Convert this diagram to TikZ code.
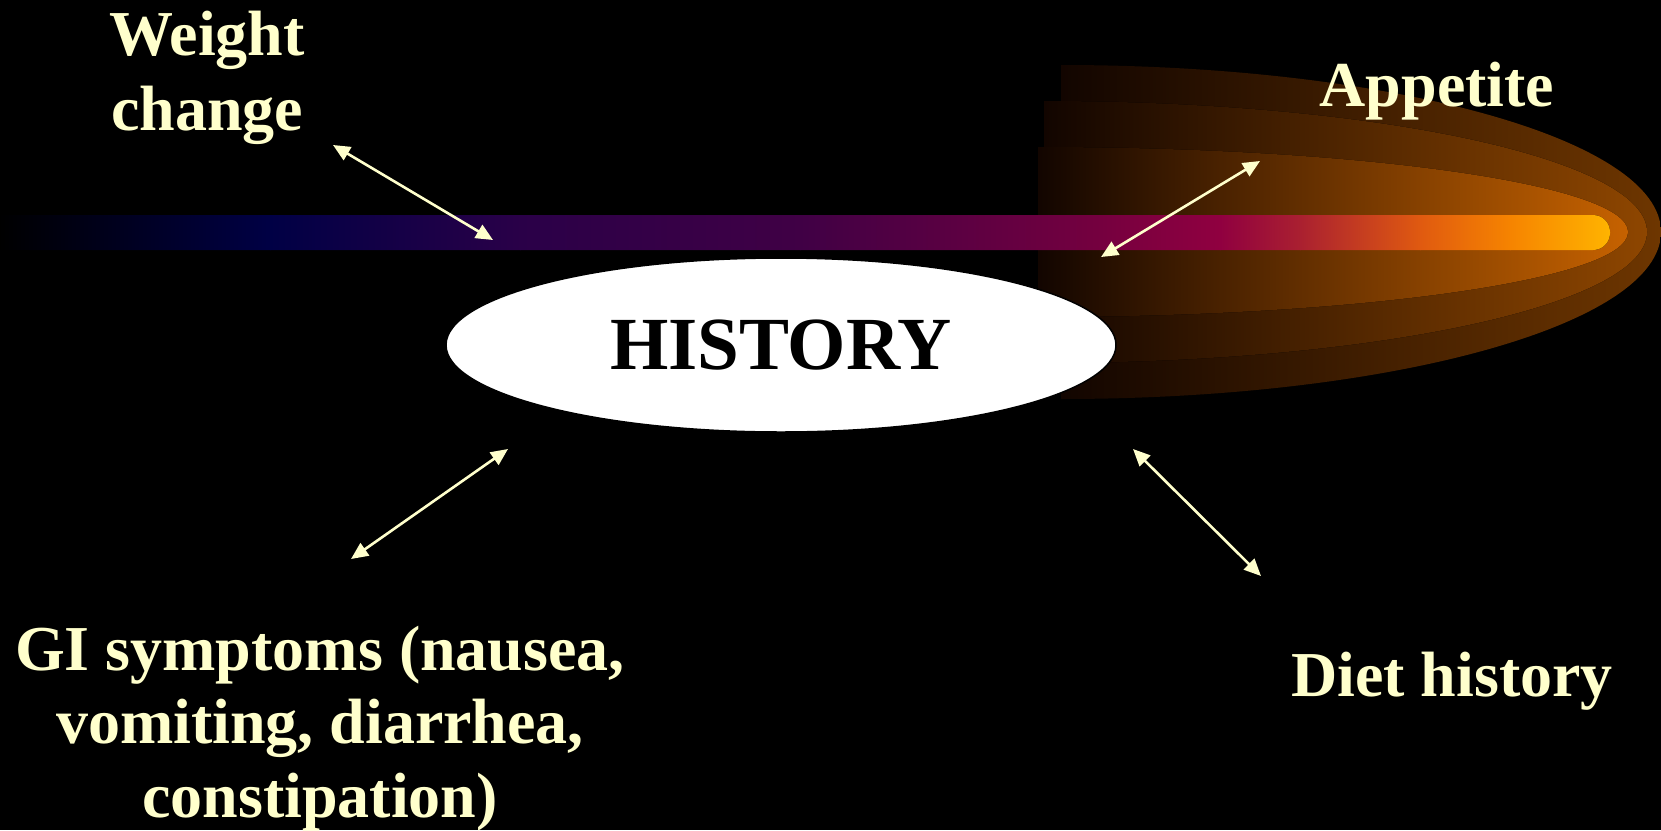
\documentclass[tikz,border=0pt]{standalone}
\usepackage{fontspec}
\setmainfont{Liberation Serif}
\usetikzlibrary{arrows.meta,shapes.geometric}
\definecolor{lbltxt}{HTML}{FFFFCC}
\definecolor{glowedge}{HTML}{120500}
\definecolor{glowAm}{HTML}{4C2600}
\definecolor{glowA}{HTML}{6E3600}
\definecolor{glowBm}{HTML}{622F00}
\definecolor{glowB}{HTML}{8E4600}
\definecolor{glowCm}{HTML}{7E3F00}
\definecolor{glowC}{HTML}{C66200}
\begin{document}
\begin{tikzpicture}[x=1pt,y=-1pt,
  lbl/.style={text=lbltxt, font=\fontsize{64}{75}\selectfont\bfseries, inner sep=0pt, anchor=base},
  link/.style={draw=lbltxt, line width=2.6pt, {Triangle[length=17pt,width=15pt]}-{Triangle[length=17pt,width=15pt]}},
  hub/.style={ellipse, fill=white, draw=black, line width=1.5pt, inner sep=0pt,
    minimum width=670pt, minimum height=174pt, font=\fontsize{75}{80}\selectfont\bfseries, text=black}]
% background
\fill[black] (0,0) rectangle (1661,830);
\useasboundingbox (0,0) rectangle (1661,830);
% comet glow layers
\fill[left color=glowedge, middle color=glowAm, right color=glowA] (1061,65) arc (-90:90:600 and 167) -- cycle;
\fill[left color=glowedge, middle color=glowBm, right color=glowB] (1044,101) arc (-90:90:603 and 131) -- cycle;
\fill[left color=glowedge, middle color=glowCm, right color=glowC] (1038,147) arc (-90:90:590 and 85) -- cycle;
% bar
\begin{scope}
\clip[rounded corners=17pt] (-20,215) rectangle (1610,250);
\fill[left color=black, right color={rgb,255:red,0;green,0;blue,69}] (-1,215) rectangle (271,250);
\fill[left color={rgb,255:red,0;green,0;blue,69}, right color={rgb,255:red,42;green,0;blue,72}] (270,215) rectangle (521,250);
\fill[left color={rgb,255:red,42;green,0;blue,72}, right color={rgb,255:red,64;green,0;blue,69}] (520,215) rectangle (801,250);
\fill[left color={rgb,255:red,64;green,0;blue,69}, right color={rgb,255:red,117;green,0;blue,63}] (800,215) rectangle (1101,250);
\fill[left color={rgb,255:red,117;green,0;blue,63}, right color={rgb,255:red,144;green,0;blue,64}] (1100,215) rectangle (1221,250);
\fill[left color={rgb,255:red,144;green,0;blue,64}, right color={rgb,255:red,170;green,32;blue,48}] (1220,215) rectangle (1301,250);
\fill[left color={rgb,255:red,170;green,32;blue,48}, right color={rgb,255:red,224;green,90;blue,16}] (1300,215) rectangle (1421,250);
\fill[left color={rgb,255:red,224;green,90;blue,16}, right color={rgb,255:red,246;green,132;blue,0}] (1420,215) rectangle (1511,250);
\fill[left color={rgb,255:red,246;green,132;blue,0}, right color={rgb,255:red,255;green,180;blue,0}] (1510,215) rectangle (1611,250);
\end{scope}
% central node
\node[hub] (hist) at (781,345) {HISTORY};
% labels
\node[lbl] (weight) at (207,55) {\begin{tabular}[t]{@{}c@{}}Weight\\change\end{tabular}};
\node[lbl] (appetite) at (1437,106) {Appetite};
\node[lbl] (diet) at (1452,696) {Diet history};
\node[lbl, font=\fontsize{64}{73.5}\selectfont\bfseries] (gi) at (320,670) {\begin{tabular}[t]{@{}c@{}}GI symptoms (nausea,\\vomiting, diarrhea,\\constipation)\end{tabular}};
% arrow ends
\coordinate (wA) at (333,145); \coordinate (wB) at (493,240);
\coordinate (aA) at (1260,161); \coordinate (aB) at (1101,257);
\coordinate (gA) at (508,449); \coordinate (gB) at (351,559);
\coordinate (dA) at (1133,449); \coordinate (dB) at (1261,576);
\draw[link] (wA) -- (wB);
\draw[link] (aA) -- (aB);
\draw[link] (gA) -- (gB);
\draw[link] (dA) -- (dB);
\end{tikzpicture}
\end{document}
